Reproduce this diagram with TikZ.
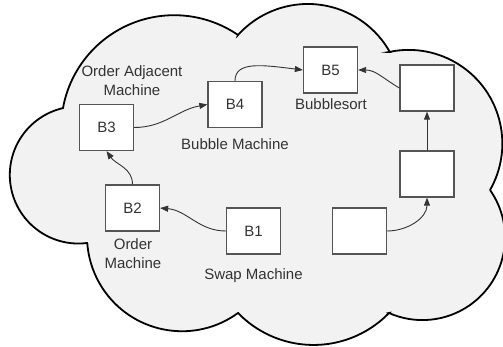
\documentclass[tikz,border=0pt]{standalone}
\usepackage{fontspec}
\setmainfont{Liberation Sans}
\usetikzlibrary{arrows.meta}
\definecolor{cloudfill}{HTML}{F2F2F2}
\definecolor{ink}{HTML}{333333}
\definecolor{boxline}{HTML}{555555}
\begin{document}
\begin{tikzpicture}[x=1pt,y=1pt,
  font=\fontsize{15}{18.5}\selectfont,
  box/.style={draw=boxline,line width=1.3pt,fill=white,minimum width=54pt,minimum height=46pt,inner sep=0pt,text=ink},
  lbl/.style={anchor=north,inner sep=0pt,align=center,text=ink},
  conn/.style={draw=ink,line width=0.9pt,-{Triangle[length=8pt,width=6pt]}}]
\useasboundingbox (0,0) rectangle (503,-347);
% cloud made of circular bumps meeting at cusps
\coordinate (cA) at (63,-108);
\coordinate (cB) at (238,-35);
\coordinate (cC) at (389,-52);
\coordinate (cD) at (490,-190);
\coordinate (cE) at (389,-313);
\coordinate (cF) at (238,-313);
\coordinate (cG) at (87,-243);
\filldraw[fill=cloudfill,draw=black,line width=1.8pt,line join=miter]
  (cA) arc[start angle=169.7,end angle=55.6,radius=113]
  -- (cB) arc[start angle=137.9,end angle=29.3,radius=94.1]
  -- (cC) arc[start angle=102.1,end angle=-29.7,radius=93.7]
  -- (cD) arc[start angle=35.1,end angle=-113.9,radius=82.6]
  -- (cE) arc[start angle=-44.1,end angle=-135.9,radius=105.1]
  -- (cF) arc[start angle=-53.9,end angle=-175.7,radius=95]
  -- (cG) arc[start angle=-82.8,end angle=-257,radius=68.6]
  -- cycle;
% boxes
\node[box] (b1) at (253.5,-231) {B1};
\node[box] (b2) at (132.5,-208) {B2};
\node[box] (b3) at (106.5,-127.5) {B3};
\node[box] (b4) at (235,-104.5) {B4};
\node[box] (b5) at (330.5,-70) {B5};
\node[box] (r1) at (427,-88) {};
\node[box] (r2) at (427,-174) {};
\node[box] (r3) at (359.5,-231) {};
% labels
\node[lbl] (l3) at (132,-65.6) {Order Adjacent\\Machine};
\node[lbl] (l4) at (235,-138.6) {Bubble Machine};
\node[lbl] (l5) at (331,-98.6) {Bubblesort};
\node[lbl] (l2) at (133,-238.6) {Order\\Machine};
\node[lbl] (l1) at (253.5,-268.6) {Swap Machine};
% connectors
\draw[conn] (b1.west) to[out=180,in=-5] (b2.east);
\draw[conn] (b2.north) to[out=90,in=-55] (b3.south);
\draw[conn] (b3.east) to[out=0,in=190] (b4.west);
\draw[conn] (b4.north) .. controls +(0,20) and +(-40,5) .. (b5.west);
\draw[conn] (r1.west) to[out=150,in=0] (b5.east);
\draw[conn] (r2.north) -- (r1.south);
\draw[conn] (r3.east) to[out=0,in=-90] (r2.south);
\end{tikzpicture}
\end{document}
